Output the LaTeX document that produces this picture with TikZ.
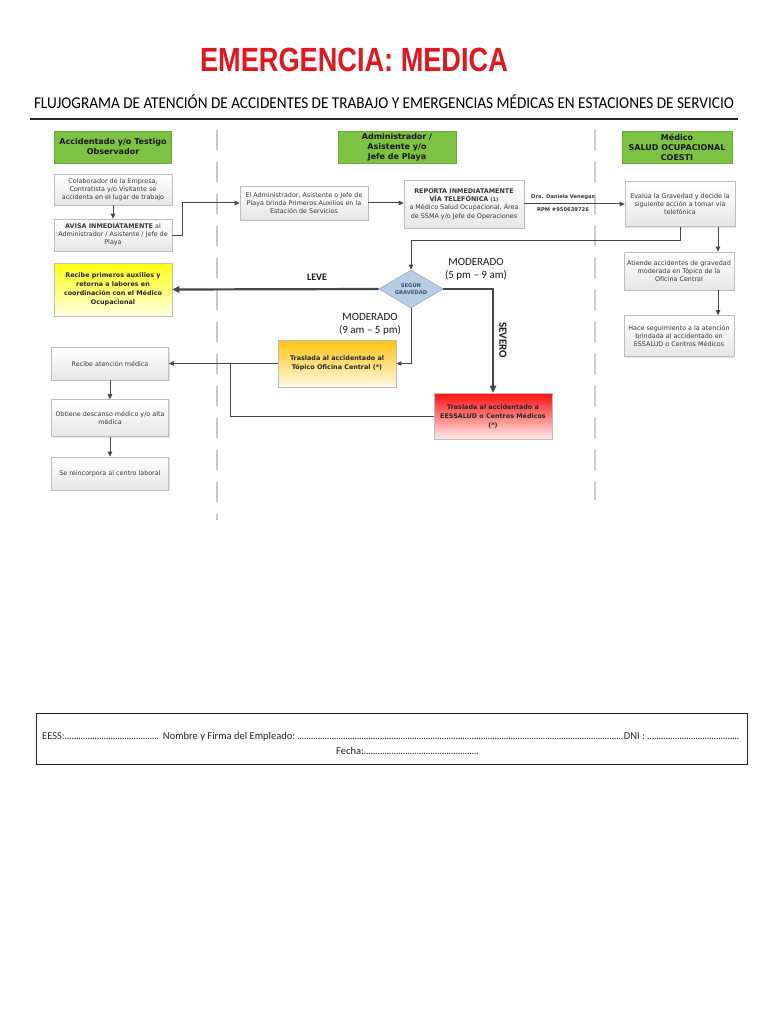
\documentclass[tikz,border=0pt]{standalone}
\usepackage{fontspec}
\usepackage{graphicx}
\setmainfont{DejaVu Sans}
\newfontfamily\efCalibri[Ligatures=TeX]{Carlito}
\newfontfamily\efArial{Liberation Sans}
\usetikzlibrary{arrows.meta,calc,shapes.geometric,shadows}
\definecolor{efRed}{HTML}{E3161D}
\definecolor{efInk}{HTML}{383838}
\definecolor{efLine}{HTML}{454545}
\definecolor{efGrid}{HTML}{CACACA}
\definecolor{efEdge}{HTML}{BDBDBD}
\definecolor{efGreen}{HTML}{7DC243}
\definecolor{efGreenEdge}{HTML}{69A83C}
\definecolor{efSky}{HTML}{B8CCE4}
\definecolor{efSkyEdge}{HTML}{8FAACC}
\definecolor{efNavy}{HTML}{3E5475}
\definecolor{efYellow}{HTML}{FFFF10}
\definecolor{efAmber}{HTML}{FFC20E}
\definecolor{efScarlet}{HTML}{FF0D0D}
\newcommand{\EFType}{\fontsize{6.4}{8.2}\selectfont}
\newcommand{\EFHead}{\bfseries\fontsize{8}{10}\selectfont}
\newcommand{\EFStrong}{\bfseries\fontsize{6.4}{9}\selectfont}
\newcommand{\EFLabel}{\efCalibri\fontsize{11}{13.3}\selectfont}
\newcommand{\EFTiny}{\bfseries\fontsize{5.2}{6}\selectfont}
\newcommand{\EFDots}{\leaders\hbox to 2.3pt{\hss.\hss}\hfill}
\tikzset{ef/base/.style={x=1pt,y=1pt,line cap=butt,line join=miter,
  every node/.style={font=\EFType,inner sep=0pt,text=efInk}},
  ef/arrow/.style={-{Triangle[length=5pt,width=4.4pt]},draw=efLine,line width=1pt},
  ef/heavy/.style={-{Triangle[length=7pt,width=6.5pt]},draw=efLine,line width=2.2pt},
  ef/line/.style={draw=efLine,line width=1pt},
  ef/lane/.style={draw=efGrid,line width=1.6pt,dash pattern=on 20pt off 12pt},
  ef/box/.style={draw=efEdge,line width=.6pt,top color=white,bottom color=black!10,
    align=center,drop shadow={opacity=.22,shadow xshift=1.3pt,shadow yshift=-1.3pt}},
  ef/head/.style={draw=efGreenEdge,fill=efGreen,line width=.6pt,align=center,
    font=\EFHead,text=black!90},
  ef/yellow/.style={ef/box,top color=efYellow,bottom color=efYellow!12,
    font=\EFStrong,text=black!85},
  ef/amber/.style={ef/box,top color=efAmber,bottom color=efAmber!10,
    font=\EFStrong,text=black!85},
  ef/scarlet/.style={ef/box,top color=efScarlet,bottom color=efScarlet!8,
    font=\EFStrong,text=black!85},
  ef/decide/.style={diamond,aspect=1.7,draw=efSkyEdge,fill=efSky,line width=.6pt,
    minimum width=64pt,minimum height=38pt,align=center,
    font=\bfseries\fontsize{5.2}{7}\selectfont,text=efNavy},
  ef/tag/.style={font=\EFLabel,text=black!90,align=center}}
\begin{document}
\begin{tikzpicture}[ef/base,y=-1pt]
  \useasboundingbox[fill=white] (0,0) rectangle (768,1024);
  \node[anchor=base,font=\efArial\bfseries\fontsize{28}{30}\selectfont,
    text=efRed] (title) at (354,72) {\scalebox{.97}[1.2]{EMERGENCIA: MEDICA}};
  \node[anchor=base,text=black] (subtitle) at (384,109)
    {\resizebox{700pt}{\height}{\efCalibri\fontsize{16.5}{18}\selectfont
    FLUJOGRAMA DE ATENCIÓN DE ACCIDENTES DE TRABAJO Y EMERGENCIAS MÉDICAS EN ESTACIONES DE SERVICIO}};
  \draw[line width=2pt,draw=black!85] (30,119)--(738,119);
  \foreach \x/\y in {217/520,595/500}{
    \draw[ef/lane] (\x,130)--(\x,\y);}
  % lane headers
  \node[ef/head,minimum width=117pt,minimum height=32pt] (hAccidentado) at (113,147)
    {Accidentado y/o Testigo\\Observador};
  \node[ef/head,minimum width=118pt,minimum height=32pt] (hAdministrador) at (397,147)
    {Administrador /\\Asistente y/o\\Jefe de Playa};
  \node[ef/head,minimum width=110pt,minimum height=32pt] (hMedico) at (677,147)
    {Médico\\SALUD OCUPACIONAL\\COESTI};
  \node[ef/box,minimum width=118pt,minimum height=31pt] (colaborador) at (113,189.5)
    {Colaborador de la Empresa,\\Contratista y/o Visitante se\\accidenta en el lugar de trabajo};
  \node[ef/box,minimum width=118pt,minimum height=32pt] (avisa) at (113,235)
    {{\bfseries AVISA INMEDIATAMENTE} al\\Administrador / Asistente / Jefe de\\Playa};
  \node[ef/yellow,minimum width=118pt,minimum height=53pt] (leve) at (113,289.5)
    {Recibe primeros auxilios y\\retorna a labores en\\coordinación con el Médico\\Ocupacional};
  \node[ef/box,minimum width=128pt,minimum height=34pt] (brinda) at (304,203)
    {El Administrador, Asistente o Jefe de\\Playa brinda Primeros Auxilios en la\\Estación de Servicios};
  \node[ef/box,minimum width=120pt,minimum height=48pt] (reporta) at (464,204)
    {{\bfseries REPORTA INMEDIATAMENTE}\\{\bfseries VÍA TELEFÓNICA} {\bfseries\fontsize{5}{6}\selectfont(1)}\\a Médico Salud Ocupacional, Área\\de SSMA y/o Jefe de Operaciones};
  \node[ef/box,minimum width=110pt,minimum height=45pt] (evalua) at (680,204)
    {Evalúa la Gravedad y decide la\\siguiente acción a tomar vía\\telefónica};
  \node[ef/box,minimum width=110pt,minimum height=38pt] (atiende) at (679,271)
    {Atiende accidentes de gravedad\\moderada en Tópico de la\\Oficina Central};
  \node[ef/box,minimum width=110pt,minimum height=41pt] (seguimiento) at (679,336)
    {Hace seguimiento a la atención\\brindada al accidentado en\\ESSALUD o Centros Médicos};
  \node[ef/decide] (gravedad) at (411,289) {SEGÚN\\GRAVEDAD};
  \node[ef/amber,minimum width=118pt,minimum height=47pt] (topico) at (337,363.5)
    {Traslada al accidentado al\\Tópico Oficina Central (*)};
  \node[ef/scarlet,minimum width=118pt,minimum height=46pt] (essalud) at (493,416)
    {Traslada al accidentado a\\EESSALUD o Centros Médicos\\(*)};
  \node[ef/box,minimum width=117pt,minimum height=33pt] (atencion) at (110,363.5)
    {Recibe atención médica};
  \node[ef/box,minimum width=117pt,minimum height=37pt] (descanso) at (110,418)
    {Obtiene descanso médico y/o alta\\médica};
  \node[ef/box,minimum width=117pt,minimum height=33pt] (reincorpora) at (110,473.5)
    {Se reincorpora al centro laboral};
  \coordinate (union) at (230,363.5);
  \draw[ef/arrow] (colaborador) -- (avisa);
  \draw[ef/arrow] (avisa.east) -- ++(10,0) |- (brinda.west);
  \draw[ef/arrow] (brinda.east) -- (brinda.east -| reporta.west);
  \draw[ef/arrow] (reporta.east |- evalua.west) -- (evalua.west);
  \node[font=\EFTiny,text=efInk] (doctora) at (563,197) {Dra. Daniela Venegas};
  \node[font=\EFTiny,text=efInk] (rpm) at (563,210) {RPM \#950639726};
  \draw[ef/arrow] (evalua.south) -- ++(0,14) -| (gravedad.north);
  \draw[ef/arrow] ([xshift=38pt]evalua.south) -- ([xshift=38pt]evalua.south |- atiende.north);
  \draw[ef/arrow] (atiende.south -| 718,0) -- (seguimiento.north -| 718,0);
  \draw[ef/heavy] (gravedad.west) -- (leve.east);
  \node[ef/tag,font=\efCalibri\bfseries\fontsize{10}{11}\selectfont] (tagLeve) at (317,277) {LEVE};
  \draw[ef/heavy,line width=1.6pt] (gravedad.east) -| (essalud.north);
  \node[ef/tag] (tagNoche) at (476,269) {MODERADO\\(5 pm – 9 am)};
  \node[ef/tag,font=\efCalibri\bfseries\fontsize{11}{12}\selectfont,rotate=-90] (tagSevero) at (503,340) {SEVERO};
  \draw[ef/arrow] (gravedad.south) |- (topico.east);
  \node[ef/tag] (tagDia) at (370,324) {MODERADO\\(9 am – 5 pm)};
  \draw[ef/arrow] (topico.west) -- (atencion.east);
  \draw[ef/line] (essalud.west) -| (union);
  \draw[ef/arrow] (atencion) -- (descanso);
  \draw[ef/arrow] (descanso) -- (reincorpora);
  \node[draw=black!85,line width=1pt,minimum width=711pt,minimum height=51pt] (firma) at (391.5,738.5) {};
  \node[anchor=base west,font=\efCalibri\fontsize{10.5}{12}\selectfont,text=black!85] (firmaLinea) at (42,739)
    {\hbox to 698pt{EESS:\hbox to 96pt{\EFDots}\ Nombre y Firma del Empleado:\EFDots DNI :\ \hbox to 92pt{\EFDots}}};
  \node[anchor=base west,font=\efCalibri\fontsize{10.5}{12}\selectfont,text=black!85] (fecha) at (336,754)
    {Fecha:\hbox to 116pt{\EFDots}};
\end{tikzpicture}
\end{document}
